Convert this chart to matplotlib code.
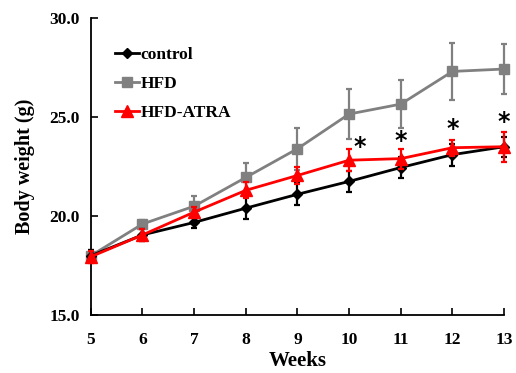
import matplotlib.pyplot as plt
from matplotlib.lines import Line2D
import numpy as np

plt.rcParams['font.family'] = ['Liberation Serif', 'DejaVu Serif']
plt.rcParams['font.weight'] = 'bold'

# data
weeks = [5, 6, 7, 8, 9, 10, 11, 12, 13]
control = [18.0, 19.05, 19.68, 20.4, 21.1, 21.75, 22.45, 23.1, 23.5]
control_err = [0.3, 0.3, 0.3, 0.55, 0.55, 0.55, 0.55, 0.55, 0.5]
hfd = [18.0, 19.6, 20.5, 21.95, 23.4, 25.15, 25.65, 27.3, 27.42]
hfd_err = [0.3, 0.2, 0.5, 0.75, 1.05, 1.25, 1.2, 1.45, 1.25]
atra = [17.95, 19.05, 20.2, 21.3, 22.05, 22.82, 22.9, 23.45, 23.5]
atra_err = [0.3, 0.3, 0.25, 0.4, 0.45, 0.55, 0.5, 0.4, 0.75]

# significance marks (x, y)
star_x = [10.2, 11, 12, 13]
star_y = [23.5, 23.78, 24.38, 24.75]

fig = plt.figure(figsize=(5.16, 3.73), dpi=100)
ax = fig.add_axes([0.176, 0.155, 0.801, 0.797])

styles = [
    (control, control_err, "black", "D", 5.5, "control", 3),
    (hfd, hfd_err, "#808080", "s", 7, "HFD", 2),
    (atra, atra_err, "#ff0000", "^", 8, "HFD-ATRA", 4),
]
handles = []
for vals, err, col, mk, ms, lab, z in styles:
    ax.errorbar(weeks, vals, yerr=err, color=col, marker=mk, markersize=ms,
                lw=2, elinewidth=1.6, capsize=2.5, capthick=1.6, clip_on=False, zorder=z)
    handles.append(Line2D([], [], color=col, marker=mk, markersize=ms, lw=2, label=lab))

for sx, sy in zip(star_x, star_y):
    ax.text(sx, sy, "*", ha="center", va="center", fontsize=17, fontweight="bold",
            family="DejaVu Sans")

ax.set_xlim(5, 13)
ax.set_ylim(15, 30)
ax.set_xticks(weeks)
ax.set_yticks([15, 20, 25, 30])
ax.set_yticklabels(["15.0", "20.0", "25.0", "30.0"])
ax.tick_params(direction="in", length=5, width=1.2, labelsize=12.5, pad=8)
ax.tick_params(axis="x", pad=12)
for s in ["top", "right"]:
    ax.spines[s].set_visible(False)
for s in ["left", "bottom"]:
    ax.spines[s].set_linewidth(1.3)

ax.set_xlabel("Weeks", fontsize=15, fontweight="bold", labelpad=2)
ax.set_ylabel("Body weight (g)", fontsize=14.5, fontweight="bold", labelpad=10)

ax.legend(handles=handles, loc="upper left", bbox_to_anchor=(0.02, 0.955), frameon=False,
          fontsize=12.5, handlelength=1.4, handletextpad=0.1, labelspacing=0.75)

fig.savefig("out.png", dpi=100)
